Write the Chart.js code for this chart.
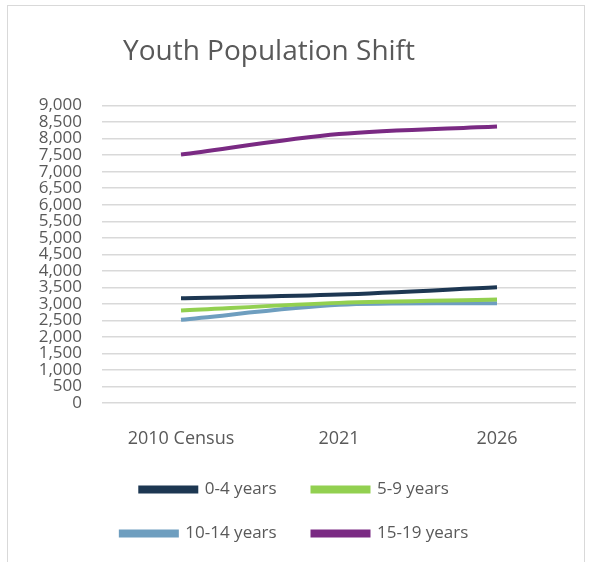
<!DOCTYPE html>
<html>
<head>
<meta charset="utf-8">
<script src="https://cdn.jsdelivr.net/npm/chart.js@4/dist/chart.umd.min.js"></script>
<style>
  html, body { margin: 0; padding: 0; background: #fff; }
  #frame {
    position: absolute; left: 7px; top: 5px; width: 578px; height: 560px;
    border: 1px solid #d9d9d9; border-bottom: none; box-sizing: border-box;
  }
  #frame canvas { display: block; }
</style>
</head>
<body>
<div id="frame"><canvas id="myChart" width="576" height="556"></canvas></div>
<script>
var years = ['2010 Census', '2021', '2026'];
var ageGroups = ['0-4 years', '5-9 years', '10-14 years', '15-19 years'];
var ages0to4 = [3170, 3280, 3500];
var ages5to9 = [2800, 3030, 3130];
var ages10to14 = [2520, 2970, 3020];
var ages15to19 = [7520, 8140, 8370];
var yTicks = [0, 500, 1000, 1500, 2000, 2500, 3000, 3500, 4000, 4500, 5000, 5500, 6000, 6500, 7000, 7500, 8000, 8500, 9000];
var lineColors = ['#1d3752', '#92d050', '#6e9ebf', '#7a2a83'];

var seriesValues = [ages0to4, ages5to9, ages10to14, ages15to19];
var gray = '#595959';

// the title sits a bit left of centre in the original
var nudgeTitle = {
  id: 'nudgeTitle',
  afterLayout: function(chart) {
    chart.titleBlock.left -= 30;
    chart.titleBlock.right -= 30;
  }
};

var ctx = document.getElementById('myChart').getContext('2d');
var chart = new Chart(ctx, {
  type: 'line',
  data: {
    labels: years,
    datasets: ageGroups.map(function(name, i) {
      return {
        label: name,
        data: seriesValues[i],
        borderColor: lineColors[i],
        backgroundColor: lineColors[i],
        borderWidth: 4,
        pointRadius: 0,
        tension: 0.3
      };
    })
  },
  plugins: [nudgeTitle],
  options: {
    responsive: false,
    animation: false,
    layout: { padding: { left: 14, right: 8, top: 0, bottom: 10 } },
    plugins: {
      title: {
        display: true,
        text: 'Youth Population Shift',
        color: gray,
        font: { family: 'Open Sans', size: 28, weight: 'normal' },
        padding: { top: 29, bottom: 37 }
      },
      legend: {
        position: 'bottom',
        labels: {
          color: gray,
          font: { family: 'Open Sans', size: 17 },
          boxWidth: 56,
          boxHeight: 4,
          padding: 27,
          // a little trailing room so the legend breaks into two rows of two
          generateLabels: function(chart) {
            var items = Chart.defaults.plugins.legend.labels.generateLabels(chart);
            items.forEach(function(it) { it.text = it.text + '\u00a0\u00a0'; });
            return items;
          }
        }
      },
      tooltip: { enabled: false }
    },
    scales: {
      x: {
        offset: true,
        grid: { display: false },
        border: { display: false },
        ticks: {
          color: gray,
          font: { family: 'Open Sans', size: 18 },
          padding: 17
        },
        afterFit: function(axis) { axis.height = 51; }
      },
      y: {
        min: 0,
        max: 9000,
        afterBuildTicks: function(axis) {
          axis.ticks = yTicks.map(function(v) { return { value: v }; });
        },
        grid: { color: '#d9d9d9', lineWidth: 1.5, drawTicks: false },
        border: { display: false },
        ticks: {
          autoSkip: false,
          color: gray,
          font: { family: 'Open Sans', size: 17 },
          padding: 20
        },
        afterFit: function(axis) { axis.width = 80; },
        afterTickToLabelConversion: function(axis) {
          axis.ticks.forEach(function(t) { t.label = t.value.toLocaleString('en-US'); });
        }
      }
    }
  }
});
</script>
</body>
</html>
